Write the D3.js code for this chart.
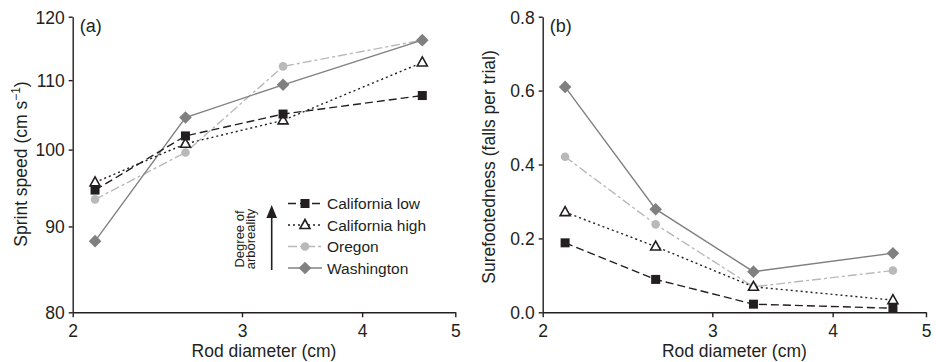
<!DOCTYPE html>
<html>
<head>
<meta charset="utf-8">
<script src="https://cdn.jsdelivr.net/npm/d3@7"></script>
<style>
  body { margin: 0; background: #fff; }
  svg { display: block; font-family: "Liberation Sans", Arial, sans-serif; }
</style>
</head>
<body>
<div class="container"></div>
<script>
// rod diameters (cm), log axis
const rodDiameter = [2.11, 2.62, 3.31, 4.62]
const xTicks = [2, 3, 4, 5]

const seriesNames = ['California low', 'California high', 'Oregon', 'Washington']

// (a) sprint speed, cm/s
const speedCalLow = [94.6, 101.9, 105.0, 107.7]
const speedCalHigh = [95.6, 100.8, 104.1, 112.7]
const speedOregon = [93.4, 99.6, 112.1, 116.2]
const speedWashington = [88.2, 104.5, 109.3, 116.2]
const speedTicks = [80, 90, 100, 110, 120]

// (b) surefootedness, falls per trial
const fallsCalLow = [0.188, 0.089, 0.022, 0.011]
const fallsCalHigh = [0.271, 0.178, 0.069, 0.033]
const fallsOregon = [0.421, 0.238, 0.069, 0.113]
const fallsWashington = [0.610, 0.279, 0.110, 0.160]
const fallsTicks = [0, 0.2, 0.4, 0.6, 0.8]

const WIDTH = 936
const HEIGHT = 362
const INK = '#231f20'

const styles = [
    { color: INK, dash: '8,4', marker: 'square' },
    { color: INK, dash: '2,3', marker: 'triangle' },
    { color: '#b9b9b9', dash: '9,3,3,3', marker: 'circle' },
    { color: '#808080', dash: null, marker: 'diamond' }
]

const svg = d3.select('.container').append('svg')
    .attr('width', WIDTH)
    .attr('height', HEIGHT)
    .attr('viewBox', `0 0 ${WIDTH} ${HEIGHT}`)

function drawMarker(g, kind, color, x, y) {
    if (kind === 'square') {
        g.append('rect').attr('x', x - 4.5).attr('y', y - 4.5)
            .attr('width', 9).attr('height', 9).attr('fill', color)
    } else if (kind === 'triangle') {
        g.append('path')
            .attr('d', `M${x},${y - 5.5}L${x + 5},${y + 3.5}L${x - 5},${y + 3.5}Z`)
            .attr('fill', '#fff').attr('stroke', color).attr('stroke-width', 1.6)
    } else if (kind === 'circle') {
        g.append('circle').attr('cx', x).attr('cy', y).attr('r', 4.3).attr('fill', color)
    } else {
        g.append('path')
            .attr('d', `M${x},${y - 6.3}L${x + 6.3},${y}L${x},${y + 6.3}L${x - 6.3},${y}Z`)
            .attr('fill', color)
    }
}

function panel(opts) {
    const x = d3.scaleLog().domain([2, 5]).range(opts.xRange)
    const y = opts.y

    const g = svg.append('g')

    // axes
    const xAxis = g.append('g')
        .attr('transform', `translate(0,${y.range()[0]})`)
        .call(d3.axisBottom(x).tickValues(xTicks).tickFormat(d3.format('d'))
            .tickSize(5).tickSizeOuter(0).tickPadding(7))
    const yAxis = g.append('g')
        .attr('transform', `translate(${opts.xRange[0]},0)`)
        .call(d3.axisLeft(y).tickValues(opts.ticks).tickFormat(opts.format)
            .tickSize(4).tickSizeOuter(0).tickPadding(4))
    for (const ax of [xAxis, yAxis]) {
        ax.select('.domain').attr('stroke', INK).attr('stroke-width', 1.4)
        ax.selectAll('.tick line').attr('stroke', INK).attr('stroke-width', 1.4)
        ax.selectAll('.tick text').attr('fill', INK).attr('font-size', 17.5)
            .attr('font-family', '"Liberation Sans", Arial, sans-serif')
    }
    yAxis.selectAll('.tick text').attr('dy', '0.36em')

    // axis titles
    const midX = (opts.xRange[0] + opts.xRange[1]) / 2
    g.append('text')
        .attr('x', midX).attr('y', 357)
        .attr('text-anchor', 'middle')
        .attr('font-size', 17.5).attr('fill', INK)
        .text('Rod diameter (cm)')

    const yt = g.append('text')
        .attr('transform', `translate(${opts.yTitleX},${opts.yTitleY}) rotate(-90)`)
        .attr('text-anchor', 'middle')
        .attr('font-size', 17.5).attr('fill', INK)
    opts.yTitle(yt)

    g.append('text')
        .attr('x', opts.xRange[0] + 7).attr('y', 32)
        .attr('font-size', 18).attr('fill', INK)
        .text(opts.label)

    // series: draw light ones first so dark lines sit on top
    const order = [2, 3, 1, 0]
    const line = d3.line().x(d => x(d[0])).y(d => y(d[1]))
    for (const i of order) {
        const s = styles[i]
        const pts = rodDiameter.map((d, j) => [d, opts.series[i][j]])
        g.append('path')
            .attr('d', line(pts))
            .attr('fill', 'none')
            .attr('stroke', s.color)
            .attr('stroke-width', 1.4)
            .attr('stroke-dasharray', s.dash)
        const mg = g.append('g')
        pts.forEach(p => drawMarker(mg, s.marker, s.color, x(p[0]), y(p[1])))
    }
}

// (a)
panel({
    xRange: [72.7, 455.3],
    y: d3.scaleLog().domain([80, 120]).range([312.3, 16.7]),
    ticks: speedTicks,
    format: d3.format('d'),
    series: [speedCalLow, speedCalHigh, speedOregon, speedWashington],
    label: '(a)',
    yTitleX: 27, yTitleY: 164,
    yTitle: t => {
        t.append('tspan').text('Sprint speed (cm s')
        t.append('tspan').attr('font-size', 12).attr('dy', -7).text('\u22121')
        t.append('tspan').attr('dy', 7).text(')')
    }
})

// (b)
panel({
    xRange: [542.7, 926],
    y: d3.scaleLinear().domain([0, 0.8]).range([312.3, 16.7]),
    ticks: fallsTicks,
    format: d3.format('.1f'),
    series: [fallsCalLow, fallsCalHigh, fallsOregon, fallsWashington],
    label: '(b)',
    yTitleX: 495, yTitleY: 167,
    yTitle: t => t.text('Surefootedness (falls per trial)')
})

// legend in panel (a)
const legend = svg.append('g').attr('transform', 'translate(288,203.5)')
seriesNames.forEach((name, i) => {
    const s = styles[i]
    const row = legend.append('g').attr('transform', `translate(0,${i * 21.5})`)
    row.append('line')
        .attr('x1', 0).attr('x2', 34)
        .attr('stroke', s.color).attr('stroke-width', 1.4)
        .attr('stroke-dasharray', s.dash)
    drawMarker(row, s.marker, s.color, 17, 0)
    row.append('text')
        .attr('x', 39).attr('dy', '0.36em')
        .attr('font-size', 15.5).attr('fill', INK)
        .text(name)
})

// arboreality arrow
svg.append('line')
    .attr('x1', 271.7).attr('x2', 271.7)
    .attr('y1', 270).attr('y2', 214)
    .attr('stroke', INK).attr('stroke-width', 1.6)
svg.append('path')
    .attr('d', 'M271.7,205L277,218L266.4,218Z')
    .attr('fill', INK)
const arb = svg.append('text')
    .attr('transform', 'translate(243.5,239) rotate(-90)')
    .attr('text-anchor', 'middle')
    .attr('font-size', 13).attr('fill', INK)
arb.append('tspan').attr('x', 0).text('Degree of')
arb.append('tspan').attr('x', 0).attr('dy', 11.5).text('arboreality')
</script>
</body>
</html>
